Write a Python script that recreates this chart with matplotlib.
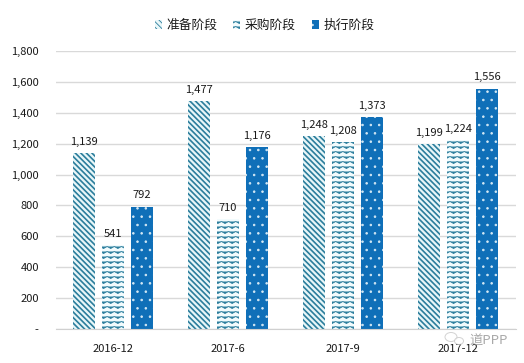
import matplotlib
matplotlib.use("Agg")
import matplotlib.hatch as mhatch
import matplotlib.pyplot as plt
import numpy as np
from matplotlib.patches import Ellipse, Patch
from matplotlib.path import Path

plt.rcParams['font.family'] = ['Noto Sans CJK SC', 'DejaVu Sans']

periods = ['2016-12', '2017-6', '2017-9', '2017-12']
prepare = [1139, 1477, 1248, 1199]
procure = [541, 710, 1208, 1224]
execute = [792, 1176, 1373, 1556]
series_names = ['准备阶段', '采购阶段', '执行阶段']
yticks = [0, 200, 400, 600, 800, 1000, 1200, 1400, 1600, 1800]


class WaveHatch(mhatch.HatchPatternBase):
    # zigzag rows, matplotlib has no wave hatch of its own
    rows = 20
    cols = 14

    def __init__(self, hatch, density):
        self.on = 'w' in hatch
        self.num_vertices = (self.rows * (2 * self.cols + 1)) if self.on else 0
        self.num_codes = self.num_vertices

    def set_vertices_and_codes(self, vertices, codes):
        n = 2 * self.cols + 1
        xs = np.linspace(0, 1, n)
        amp = 0.01  # one pixel of the 100 px tile, snapping eats anything smaller
        for r in range(self.rows):
            y = (r + 0.5) / self.rows
            ys = y + amp * np.where(np.arange(n) % 2 == 0, 1, -1)
            vertices[r * n:(r + 1) * n, 0] = xs
            vertices[r * n:(r + 1) * n, 1] = ys
            codes[r * n] = Path.MOVETO
            codes[r * n + 1:(r + 1) * n] = Path.LINETO


mhatch._hatch_types.append(WaveHatch)

TEAL = '#2b7d9c'
BLUE = '#0f6fb8'
PALE = '#e8f6f8'
LIGHT = '#f2fbfd'
STRIPES = '\\' * 6

fig = plt.figure(figsize=(5.24, 3.63), dpi=100)
ax = fig.add_axes([55.5 / 524, 34 / 363, 460 / 524, 278 / 363])

x = np.arange(len(periods)) + 0.5
w = 0.196
step = 0.252

# hatch linewidth gets picked up when each patch is created
plt.rcParams['hatch.linewidth'] = 1.2
ax.bar(x - step, prepare, w, facecolor=PALE, edgecolor=TEAL, hatch=STRIPES, lw=0, zorder=2)
h1 = Patch(facecolor=PALE, edgecolor=TEAL, hatch=STRIPES, lw=0)
plt.rcParams['hatch.linewidth'] = 0.6
ax.bar(x, procure, w, facecolor=LIGHT, edgecolor=TEAL, hatch='w', lw=0, zorder=2)
h2 = Patch(facecolor=LIGHT, edgecolor=TEAL, hatch='w', lw=0)
ax.bar(x + step, execute, w, facecolor=BLUE, edgecolor='#d5e9f5', hatch='..', lw=0, zorder=2)
h3 = Patch(facecolor=BLUE, edgecolor='#d5e9f5', hatch='..', lw=0)

for off, vals in zip((-step, 0, step), (prepare, procure, execute)):
    for xi, v in zip(x, vals):
        ax.annotate(f'{v:,}', (xi + off, v), xytext=(0, 4.5), textcoords='offset points',
                    ha='center', va='bottom', fontsize=8, color='#1a1a1a')

ax.set_xlim(0, 4)
ax.set_ylim(0, 1800)
ax.set_xticks(x, periods, fontsize=8, color='#1a1a1a')
ax.set_yticks(yticks, ['-' if t == 0 else f'{t:,}' for t in yticks], fontsize=8, color='#1a1a1a')
ax.tick_params(axis='y', length=0, pad=12)
ax.tick_params(axis='x', length=0, pad=11)
ax.grid(axis='y', color='#d9d9d9', lw=1, zorder=0)
ax.set_axisbelow(True)
for s in ('top', 'right', 'left'):
    ax.spines[s].set_visible(False)
ax.spines['bottom'].set_color('#d0d0d0')

fig.legend([h1, h2, h3], series_names, ncol=3, frameon=False, fontsize=9.2, loc='center',
           bbox_to_anchor=(264.5 / 524, 1 - 25 / 363), handlelength=0.55, handleheight=0.7,
           handletextpad=0.35, columnspacing=1.25, labelcolor='#1a1a1a')

# watermark in the bottom right corner
fig.text(508 / 524, 1 - 340 / 363, '道PPP', fontsize=9.5, color='#9a9a9a', alpha=0.85,
         ha='right', va='center')
for cx, cy, ew, eh in ((451, 337, 12, 9), (459, 341, 9, 7)):
    fig.add_artist(Ellipse((cx / 524, 1 - cy / 363), ew / 524, eh / 363, transform=fig.transFigure,
                           facecolor='white', edgecolor='#c4c4c4', lw=0.7, alpha=0.75))

fig.savefig('out.png', dpi=100)
